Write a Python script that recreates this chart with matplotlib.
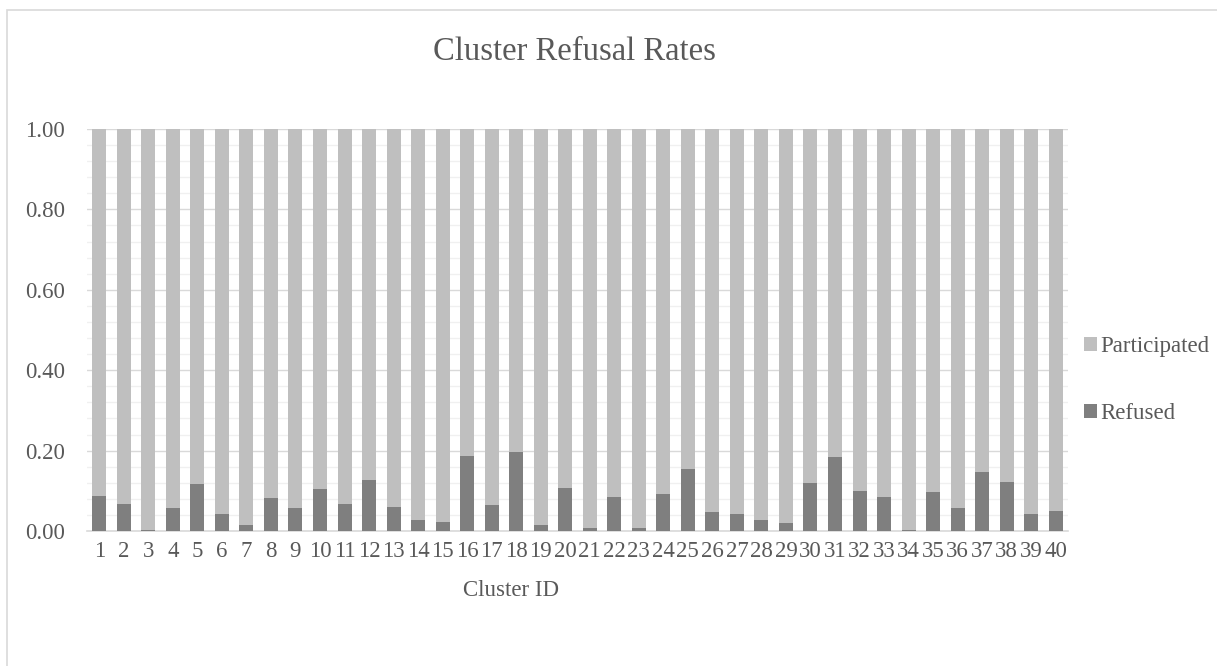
import matplotlib
matplotlib.use('Agg')
import matplotlib.pyplot as plt
from matplotlib.patches import Rectangle
from matplotlib.ticker import MultipleLocator

plt.rcParams['font.family'] = ['Liberation Serif', 'DejaVu Serif']

clusters = [str(i) for i in range(1, 41)]
refused = [0.087, 0.068, 0.003, 0.057, 0.118, 0.042, 0.015, 0.082, 0.058, 0.105,
           0.067, 0.127, 0.060, 0.027, 0.022, 0.187, 0.065, 0.197, 0.015, 0.107,
           0.007, 0.085, 0.008, 0.092, 0.155, 0.047, 0.042, 0.027, 0.020, 0.120,
           0.184, 0.100, 0.085, 0.003, 0.096, 0.057, 0.147, 0.122, 0.042, 0.049]
participated = [1 - r for r in refused]

txt = '#595959'
fig = plt.figure(figsize=(12.17, 6.66), dpi=100)
ax = fig.add_axes([87 / 1217, 135 / 666, 981 / 1217, 402 / 666])

# outer chart frame (only top/left edges fall inside the image)
fig.patches.append(Rectangle((7 / 1217, -0.1), 1.2, 1.1 - 10 / 666,
                             transform=fig.transFigure, fill=False,
                             edgecolor='#d9d9d9', linewidth=1.2))

x = range(len(clusters))
ax.bar(x, refused, width=0.57, color='#7f7f7f', label='Refused', zorder=3)
ax.bar(x, participated, width=0.57, bottom=refused, color='#bfbfbf', label='Participated', zorder=3)

ax.set_xlim(-0.5, len(clusters) - 0.5)
ax.set_ylim(0, 1.0)
ax.yaxis.set_major_locator(MultipleLocator(0.2))
ax.yaxis.set_minor_locator(MultipleLocator(0.04))
ax.yaxis.set_major_formatter(plt.FormatStrFormatter('%.2f'))
ax.grid(axis='y', which='major', color='#d9d9d9', linewidth=1.0, zorder=0)
ax.grid(axis='y', which='minor', color='#f0f0f0', linewidth=1.0, zorder=0)
ax.set_xticks(list(x))
ax.set_xticklabels(clusters)
ax.tick_params(axis='both', which='both', length=0, labelsize=16.5, labelcolor=txt)
ax.tick_params(axis='y', pad=16)
ax.tick_params(axis='x', pad=7)
for s in ['top', 'right', 'left']:
    ax.spines[s].set_visible(False)
ax.spines['bottom'].set_color('#d9d9d9')
ax.spines['bottom'].set_linewidth(1.2)

fig.text(574 / 1217, 1 - 52 / 666, 'Cluster Refusal Rates', ha='center', va='center',
         fontsize=23.5, color=txt)
fig.text(511 / 1217, 1 - 590 / 666, 'Cluster ID', ha='center', va='center',
         fontsize=16.5, color=txt)

h, l = ax.get_legend_handles_labels()
leg = fig.legend(h[::-1], l[::-1], loc='center left', bbox_to_anchor=(1075 / 1217, 1 - 380 / 666),
                 frameon=False, fontsize=16.5, handlelength=0.55, handleheight=0.55,
                 handletextpad=0.15, labelspacing=2.0, borderaxespad=0)
for t in leg.get_texts():
    t.set_color(txt)

fig.savefig('out.png', dpi=100)
